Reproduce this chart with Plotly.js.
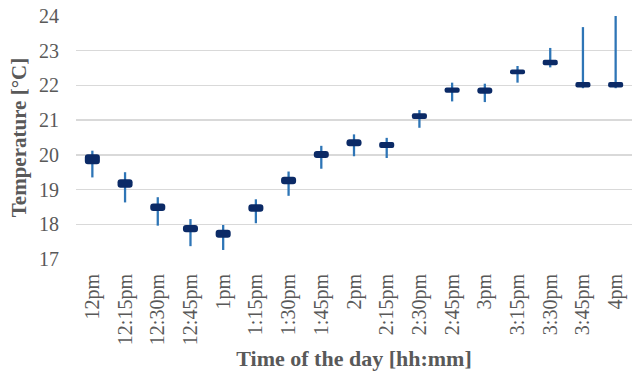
<!DOCTYPE html>
<html>
<head>
<meta charset="utf-8">
<script src="https://cdn.plot.ly/plotly-3.0.1.min.js"></script>
<style>html,body{margin:0;padding:0;background:#fff;}#chart{width:632px;height:377px;}</style>
</head>
<body>
<div id="chart"></div>
<script>
var times = ['12pm','12:15pm','12:30pm','12:45pm','1pm','1:15pm','1:30pm','1:45pm','2pm','2:15pm','2:30pm','2:45pm','3pm','3:15pm','3:30pm','3:45pm','4pm'];
var high = [20.12,19.50,18.78,18.15,17.98,18.72,19.52,20.26,20.59,20.49,21.29,22.08,22.05,22.56,23.08,23.68,24.0];
var low = [19.35,18.63,17.96,17.37,17.26,18.03,18.82,19.60,19.96,19.91,20.78,21.54,21.52,22.08,22.52,21.92,21.92];
var boxHigh = [20.02,19.30,18.60,17.98,17.84,18.58,19.37,20.11,20.45,20.37,21.20,21.94,21.94,22.46,22.74,22.10,22.10];
var boxLow = [19.73,19.05,18.38,17.77,17.61,18.36,19.15,19.91,20.25,20.20,21.03,21.79,21.76,22.32,22.58,21.94,21.94];

var whisker = {
  type: 'bar', x: times,
  base: low,
  y: high.map(function(h, i){ return h - low[i]; }),
  width: 0.07,
  marker: {color: '#2e75b6', line: {width: 0}},
  hoverinfo: 'skip', cliponaxis: false
};
var box = {
  type: 'bar', x: times,
  base: boxLow,
  y: boxHigh.map(function(h, i){ return h - boxLow[i]; }),
  width: 0.46,
  marker: {color: '#0b2a66', line: {width: 0}, cornerradius: 3},
  cliponaxis: false
};

var layout = {
  width: 632, height: 377,
  margin: {l: 76, r: 0, t: 16, b: 118},
  barmode: 'overlay',
  showlegend: false,
  paper_bgcolor: '#fff', plot_bgcolor: '#fff',
  font: {family: 'Liberation Serif, Times New Roman, serif', color: '#595959', size: 20},
  xaxis: {
    type: 'category', tickangle: -90, showgrid: false, showline: false, zeroline: false,
    ticks: '', ticklabelstandoff: 10,
    tickfont: {size: 20, color: '#595959'},
    title: {text: '<b>Time of the day [hh:mm]</b>', font: {size: 22, color: '#595959'}, standoff: 6}
  },
  yaxis: {
    range: [17, 24], dtick: 1, showgrid: true, gridcolor: '#d9d9d9', gridwidth: 1.5,
    showline: false, zeroline: false, ticks: '', ticklabelstandoff: 16,
    tickfont: {size: 20, color: '#595959'},
    title: {text: '<b>Temperature [°C]</b>', font: {size: 21, color: '#595959'}, standoff: 6}
  }
};
Plotly.newPlot('chart', [whisker, box], layout, {displayModeBar: false, staticPlot: true});
</script>
</body>
</html>
